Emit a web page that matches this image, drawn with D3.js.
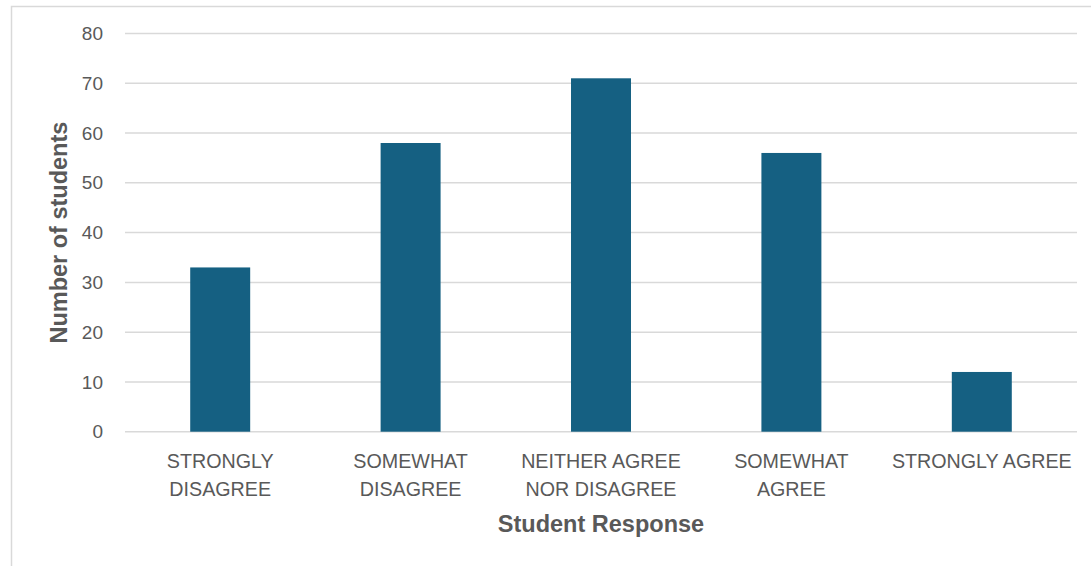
<!DOCTYPE html>
<html>
<head>
<meta charset="utf-8">
<script src="https://cdn.jsdelivr.net/npm/d3@7"></script>
<style>
  body { margin: 0; background: #fff; }
  text { font-family: "Liberation Sans", Arial, sans-serif; fill: #595959; }
</style>
</head>
<body>
<div id="chart"></div>
<script>
var categories = [["STRONGLY", "DISAGREE"], ["SOMEWHAT", "DISAGREE"], ["NEITHER AGREE", "NOR DISAGREE"], ["SOMEWHAT", "AGREE"], ["STRONGLY AGREE"]];
var counts = [33, 58, 71, 56, 12];
var yTicks = [0, 10, 20, 30, 40, 50, 60, 70, 80];

var svg = d3.select("#chart").append("svg")
  .attr("width", 1091)
  .attr("height", 566);

// chart frame
svg.append("rect")
  .attr("x", 11.5).attr("y", 6.5)
  .attr("width", 1100).attr("height", 600)
  .attr("fill", "none")
  .attr("stroke", "#d9d9d9")
  .attr("stroke-width", 1.5);

var plotLeft = 125, plotRight = 1077, plotTop = 33.5, plotBottom = 431.7;

var xScale = d3.scaleBand()
  .domain(d3.range(categories.length))
  .range([plotLeft, plotRight])
  .paddingInner(0.685)
  .paddingOuter(0.3425);

var yScale = d3.scaleLinear().domain([0, 80]).range([plotBottom, plotTop]);

// gridlines
svg.append("g")
  .selectAll("line")
  .data(yTicks)
  .enter().append("line")
  .attr("x1", plotLeft).attr("x2", plotRight)
  .attr("y1", function (d) { return yScale(d); })
  .attr("y2", function (d) { return yScale(d); })
  .attr("stroke", "#d9d9d9")
  .attr("stroke-width", 1.5);

// y tick labels
svg.append("g")
  .selectAll("text")
  .data(yTicks)
  .enter().append("text")
  .attr("x", 103)
  .attr("y", function (d) { return yScale(d); })
  .attr("dy", "0.35em")
  .attr("text-anchor", "end")
  .style("font-size", "19px")
  .text(function (d) { return d; });

// bars
svg.append("g")
  .selectAll("rect")
  .data(counts)
  .enter().append("rect")
  .attr("x", function (d, i) { return xScale(i); })
  .attr("y", function (d) { return yScale(d); })
  .attr("width", xScale.bandwidth())
  .attr("height", function (d) { return yScale(0) - yScale(d); })
  .attr("fill", "#156082");

// category labels
var catG = svg.append("g")
  .selectAll("text")
  .data(categories)
  .enter().append("text")
  .attr("text-anchor", "middle")
  .style("font-size", "19.7px")
  .attr("x", function (d, i) { return xScale(i) + xScale.bandwidth() / 2; })
  .attr("y", 468);

catG.selectAll("tspan")
  .data(function (d) { return d; })
  .enter().append("tspan")
  .attr("x", function () { return d3.select(this.parentNode).attr("x"); })
  .attr("dy", function (d, i) { return i === 0 ? 0 : 28; })
  .text(function (d) { return d; });

// axis titles
svg.append("text")
  .attr("x", (plotLeft + plotRight) / 2)
  .attr("y", 532)
  .attr("text-anchor", "middle")
  .style("font-size", "23.5px")
  .style("font-weight", "bold")
  .text("Student Response");

svg.append("text")
  .attr("transform", "translate(67," + ((plotTop + plotBottom) / 2) + ") rotate(-90)")
  .attr("text-anchor", "middle")
  .style("font-size", "23.5px")
  .style("font-weight", "bold")
  .text("Number of students");
</script>
</body>
</html>
